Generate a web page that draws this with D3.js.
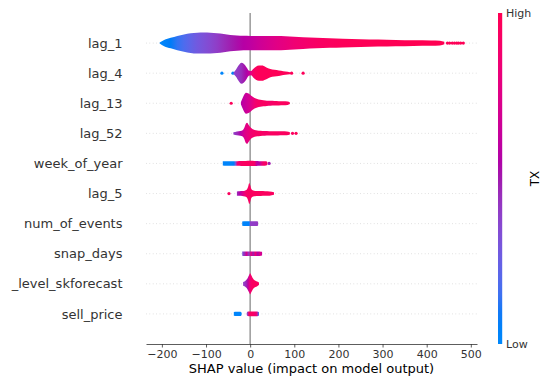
<!doctype html>
<html lang="en">
<head>
<meta charset="utf-8">
<style>
  body { margin: 0; background: #fff; }
  text { font-family: "DejaVu Sans", sans-serif; }
</style>
</head>
<body>
<div id="chart"></div>
<script src="https://d3js.org/d3.v7.min.js"></script>
<script>
// features, top to bottom
var features = ["lag_1", "lag_4", "lag_13", "lag_52", "week_of_year", "lag_5",
                "num_of_events", "snap_days", "_level_skforecast", "sell_price"];
var xTicks = [-200, -100, 0, 100, 200, 300, 400, 500];

// per feature: shap value grid, relative violin width, mean feature value (0 low .. 1 high)
var lag1_x = [-205,-195,-180,-165,-150,-135,-120,-105,-90,-75,-60,-45,-30,-15,0,20,40,60,80,100,120,150,180,210,250,290,330,370,410,430,440];
var lag1_w = [0.05,0.3,0.5,0.68,0.82,0.93,0.99,1.0,0.98,0.93,0.86,0.78,0.72,0.69,0.68,0.67,0.67,0.68,0.66,0.6,0.56,0.5,0.45,0.41,0.37,0.33,0.3,0.27,0.25,0.23,0.12];
var lag1_c = [0.0,0.03,0.08,0.13,0.18,0.23,0.28,0.32,0.36,0.4,0.45,0.49,0.53,0.57,0.6,0.66,0.71,0.76,0.8,0.85,0.88,0.92,0.95,0.97,0.98,0.99,0.99,1,1,1,1];
var lag1_dx = [447, 452, 458, 463, 468, 472, 477, 483];
var lag1_dc = [0.97, 0.98, 0.97, 0.98, 0.99, 0.97, 0.98, 0.99];

var lag4_x = [-38,-32,-26,-20,-14,-8,-3,2,7,13,20,27,34,42,50,60,70,80,90,95];
var lag4_w = [0.05,0.35,0.75,1.0,0.88,0.55,0.25,0.2,0.4,0.62,0.72,0.73,0.62,0.45,0.35,0.3,0.22,0.15,0.1,0.03];
var lag4_c = [0.35,0.4,0.42,0.45,0.5,0.55,0.62,0.78,0.9,0.95,0.97,0.97,0.97,0.98,0.98,0.98,0.98,0.97,0.97,0.97];
var lag4_dx = [-64, -39, 94, 120];
var lag4_dc = [0.02, 0.05, 0.97, 0.97];

var lag13_x = [-21,-17,-13,-9,-5,0,5,10,16,23,30,38,46,55,65,75,85,90];
var lag13_w = [0.1,0.5,0.85,1.0,0.95,0.82,0.65,0.5,0.4,0.33,0.28,0.25,0.23,0.21,0.2,0.19,0.17,0.08];
var lag13_c = [0.55,0.6,0.62,0.65,0.68,0.72,0.78,0.85,0.9,0.92,0.94,0.92,0.9,0.93,0.95,0.95,0.95,0.95];
var lag13_dx = [-43];
var lag13_dc = [0.97];

var lag52_x = [-38,-30,-22,-17,-13,-10,-7,-4,0,5,10,16,23,33,43,53,63,73,83,90];
var lag52_w = [0.1,0.18,0.22,0.3,0.55,0.9,1.0,0.85,0.6,0.42,0.32,0.27,0.24,0.22,0.21,0.2,0.2,0.19,0.17,0.1];
var lag52_c = [0.4,0.45,0.55,0.65,0.72,0.75,0.78,0.8,0.85,0.88,0.9,0.92,0.93,0.9,0.92,0.95,0.92,0.95,0.95,0.95];
var lag52_dx = [96, 104];
var lag52_dc = [0.95, 0.97];

var week_x = [-62,-55,-45,-37,-33,-29,-20,-10,0,10,15,20,25,30,36,39];
var week_w = [0.2,0.22,0.22,0.22,0.22,0.22,0.23,0.24,0.25,0.24,0.23,0.22,0.22,0.22,0.2,0.15];
var week_c = [0.02,0.03,0.03,0.05,0.3,0.85,0.92,0.95,0.93,0.9,0.6,0.55,0.75,0.9,0.92,0.95];
var week_dx = [43];
var week_dc = [0.5];

var lag5_x = [-30,-24,-18,-12,-8,-6,-4,-2,0,2,4,7,11,16,24,34,44,54];
var lag5_w = [0.2,0.22,0.23,0.27,0.35,0.5,0.75,1.0,0.8,0.5,0.35,0.28,0.25,0.24,0.23,0.22,0.2,0.12];
var lag5_c = [0.45,0.55,0.7,0.85,0.9,0.92,0.93,0.93,0.94,0.95,0.95,0.95,0.95,0.95,0.95,0.95,0.95,0.95];
var lag5_dx = [-48];
var lag5_dc = [0.95];

var events_x = [-18,-10,-2,-1,0,8,16,18];
var events_w = [0.2,0.22,0.22,0.22,0.22,0.22,0.22,0.18];
var events_c = [0.03,0.03,0.05,0.2,0.4,0.4,0.42,0.42];

var snap_x = [-18,-13,-8,-3,2,7,12,17,22,27];
var snap_w = [0.2,0.22,0.22,0.22,0.22,0.22,0.22,0.22,0.22,0.18];
var snap_c = [0.3,0.45,0.7,0.4,0.8,0.5,0.85,0.55,0.75,0.65];

var level_x = [-16,-12,-8,-5,-2,0,2,5,8,12,16,20];
var level_w = [0.18,0.25,0.4,0.6,0.85,1.0,0.85,0.6,0.42,0.3,0.22,0.12];
var level_c = [0.4,0.42,0.48,0.6,0.75,0.85,0.9,0.93,0.95,0.95,0.95,0.9];

var price_x = [-37,-30,-22,-20,-19,-8,-7,-3,2,8,14,18,20];
var price_w = [0.18,0.2,0.2,0.15,0,0,0.18,0.22,0.22,0.22,0.22,0.2,0.15];
var price_c = [0.02,0.02,0.02,0.02,0.02,0.5,0.3,0.9,0.95,0.9,0.85,0.4,0.1];

var violins = [
  {x: lag1_x, w: lag1_w, c: lag1_c, dx: lag1_dx, dc: lag1_dc},
  {x: lag4_x, w: lag4_w, c: lag4_c, dx: lag4_dx, dc: lag4_dc},
  {x: lag13_x, w: lag13_w, c: lag13_c, dx: lag13_dx, dc: lag13_dc},
  {x: lag52_x, w: lag52_w, c: lag52_c, dx: lag52_dx, dc: lag52_dc},
  {x: week_x, w: week_w, c: week_c, dx: week_dx, dc: week_dc},
  {x: lag5_x, w: lag5_w, c: lag5_c, dx: lag5_dx, dc: lag5_dc},
  {x: events_x, w: events_w, c: events_c, dx: [], dc: []},
  {x: snap_x, w: snap_w, c: snap_c, dx: [], dc: []},
  {x: level_x, w: level_w, c: level_c, dx: [], dc: []},
  {x: price_x, w: price_w, c: price_c, dx: [], dc: []}
];

// shap red_blue colormap (lch interpolation)
function shapColor(t) {
  t = Math.max(0, Math.min(1, t));
  var l = t < 0.5 ? 54 + (40 - 54) * (t / 0.5) : 40 + (54 - 40) * ((t - 0.5) / 0.5);
  var c = 70 + 20 * t;
  var h = (266.93 + (380.32 - 266.93) * t) % 360;
  return d3.hcl(h, c, l).formatHex();
}

var width = 542, height = 383;
var svg = d3.select("#chart").append("svg")
            .attr("width", width)
            .attr("height", height);
var defs = svg.append("defs");

var x = d3.scaleLinear().domain([-236, 514]).range([146, 477]);
var y = d3.scaleLinear().domain([-1, features.length]).range([344, 13]);
var n = features.length;
var pos = function(i) { return n - 1 - i; };

// dotted row lines
svg.append("g").selectAll("line")
   .data(features)
   .enter().append("line")
   .attr("x1", x(-236)).attr("x2", x(514))
   .attr("y1", function(d, i) { return y(pos(i)); })
   .attr("y2", function(d, i) { return y(pos(i)); })
   .attr("stroke", "#cccccc")
   .attr("stroke-width", 0.7)
   .attr("stroke-dasharray", "0.8,2.6");

// zero line
svg.append("line")
   .attr("x1", x(0)).attr("x2", x(0))
   .attr("y1", y(n)).attr("y2", y(-1))
   .attr("stroke", "#999999")
   .attr("stroke-width", 1.5);

// outlier dots
violins.forEach(function(v, i) {
  svg.append("g").selectAll("circle")
     .data(v.dx)
     .enter().append("circle")
     .attr("cx", function(d) { return x(d); })
     .attr("cy", y(pos(i)))
     .attr("r", 1.6)
     .attr("fill", function(d, k) { return shapColor(v.dc[k]); });
});

// violins
var half = 0.35;
violins.forEach(function(v, i) {
  var gid = "vg" + i;
  var x1 = x(v.x[0]), x2 = x(v.x[v.x.length - 1]);
  var grad = defs.append("linearGradient")
     .attr("id", gid)
     .attr("gradientUnits", "userSpaceOnUse")
     .attr("x1", x1).attr("x2", x2).attr("y1", 0).attr("y2", 0);
  v.x.forEach(function(xv, k) {
    grad.append("stop")
        .attr("offset", (x(xv) - x1) / (x2 - x1))
        .attr("stop-color", shapColor(v.c[k]));
  });
  var pts = v.x.map(function(xv, k) { return [xv, v.w[k]]; });
  var area = d3.area()
     .curve(d3.curveMonotoneX)
     .x(function(d) { return x(d[0]); })
     .y0(function(d) { return y(pos(i) - d[1] * half); })
     .y1(function(d) { return y(pos(i) + d[1] * half); });
  svg.append("path")
     .datum(pts)
     .attr("d", area)
     .attr("fill", "url(#" + gid + ")");
});

// y labels
svg.append("g").selectAll("text")
   .data(features)
   .enter().append("text")
   .attr("x", 122.5)
   .attr("y", function(d, i) { return y(pos(i)); })
   .attr("dy", "0.36em")
   .attr("text-anchor", "end")
   .attr("font-size", 13)
   .attr("fill", "#333333")
   .text(function(d) { return d; });

// x axis
var xAxis = svg.append("g")
   .attr("transform", "translate(0," + y(-1) + ")")
   .call(d3.axisBottom(x).tickValues(xTicks).tickSize(3.5).tickSizeOuter(0).tickPadding(3));
xAxis.select(".domain").attr("stroke", "#333333").attr("stroke-width", 0.8);
xAxis.selectAll(".tick line").attr("stroke", "#333333").attr("stroke-width", 0.8);
xAxis.selectAll(".tick text")
     .attr("fill", "#333333")
     .attr("font-size", 11)
     .attr("font-family", "DejaVu Sans, sans-serif");

svg.append("text")
   .attr("x", (x(-236) + x(514)) / 2)
   .attr("y", 373)
   .attr("text-anchor", "middle")
   .attr("font-size", 13)
   .attr("fill", "#000")
   .text("SHAP value (impact on model output)");

// colorbar
var cbTop = y(n), cbBot = y(-1);
var cg = defs.append("linearGradient")
   .attr("id", "cbar")
   .attr("x1", 0).attr("x2", 0).attr("y1", 1).attr("y2", 0);
d3.range(0, 1.0001, 0.05).forEach(function(t) {
  cg.append("stop").attr("offset", t).attr("stop-color", shapColor(t));
});
svg.append("rect")
   .attr("x", 498)
   .attr("y", cbTop)
   .attr("width", 4.2)
   .attr("height", cbBot - cbTop)
   .attr("fill", "url(#cbar)");
svg.append("text")
   .attr("x", 506).attr("y", cbTop).attr("dy", "0.36em")
   .attr("font-size", 11).attr("fill", "#333333")
   .text("High");
svg.append("text")
   .attr("x", 506).attr("y", cbBot).attr("dy", "0.36em")
   .attr("font-size", 11).attr("fill", "#333333")
   .text("Low");
svg.append("text")
   .attr("transform", "translate(535," + ((cbTop + cbBot) / 2) + ") rotate(-90)")
   .attr("text-anchor", "middle")
   .attr("dy", "0.36em")
   .attr("font-size", 12)
   .attr("fill", "#000")
   .text("TX");
</script>
</body>
</html>
